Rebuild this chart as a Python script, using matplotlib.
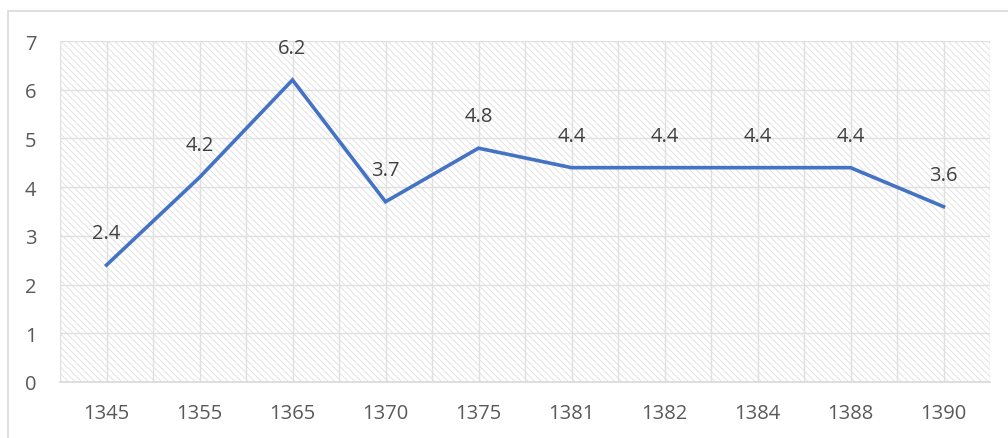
import numpy as np
import matplotlib.pyplot as plt
from matplotlib.patches import Rectangle

# values
years = ['1345', '1355', '1365', '1370', '1375', '1381', '1382', '1384', '1388', '1390']
values = [2.4, 4.2, 6.2, 3.7, 4.8, 4.4, 4.4, 4.4, 4.4, 3.6]
y_ticks = [0, 1, 2, 3, 4, 5, 6, 7]

plt.rcParams['font.family'] = ['Open Sans', 'DejaVu Sans']
plt.rcParams['hatch.color'] = '#dedede'
plt.rcParams['hatch.linewidth'] = 0.6

fig = plt.figure(figsize=(10.08, 4.39), dpi=100)

# outer chart frame (left and top edges visible)
fig.patches.append(Rectangle((8 / 1008, -0.1), 1.2, (439 - 12) / 439 + 0.1,
                             transform=fig.transFigure, fill=False,
                             edgecolor='#d9d9d9', linewidth=1.2))

ax = fig.add_axes([60 / 1008, (439 - 383) / 439, 930 / 1008, 341 / 439])
x = np.arange(len(years))

# hatched plot background
ax.add_patch(Rectangle((0, 0), 1, 1, transform=ax.transAxes, facecolor='white',
                       edgecolor='#dedede', hatch='\\\\\\\\\\', linewidth=0, zorder=0))

ax.plot(x, values, color='#4472C4', linewidth=2.6, solid_joinstyle='miter', zorder=3)
for xi, v in zip(x, values):
    ax.annotate(f'{v:.1f}', (xi, v), xytext=(0, 23), textcoords='offset points',
                ha='center', va='center', fontsize=14.5, color='#404040', zorder=4)

ax.set_xlim(-0.5, len(years) - 0.5)
ax.set_ylim(0, 7)
ax.set_xticks(x)
ax.set_xticklabels(years)
ax.set_xticks(np.arange(-0.5, len(years), 1), minor=True)
ax.set_yticks(y_ticks)

ax.grid(True, which='both', axis='x', color='#e0e0e0', linewidth=1, zorder=1)
ax.grid(True, which='major', axis='y', color='#e0e0e0', linewidth=1, zorder=1)
ax.set_axisbelow(True)

for s in ['top', 'right', 'left']:
    ax.spines[s].set_visible(False)
ax.spines['bottom'].set_color('#d9d9d9')
ax.spines['bottom'].set_linewidth(1.2)

ax.tick_params(which='both', length=0)
ax.tick_params(axis='x', pad=15, labelsize=14.5, labelcolor='#595959')
ax.tick_params(axis='y', pad=17, labelsize=14.5, labelcolor='#595959')

fig.savefig('out.png', dpi=100)
